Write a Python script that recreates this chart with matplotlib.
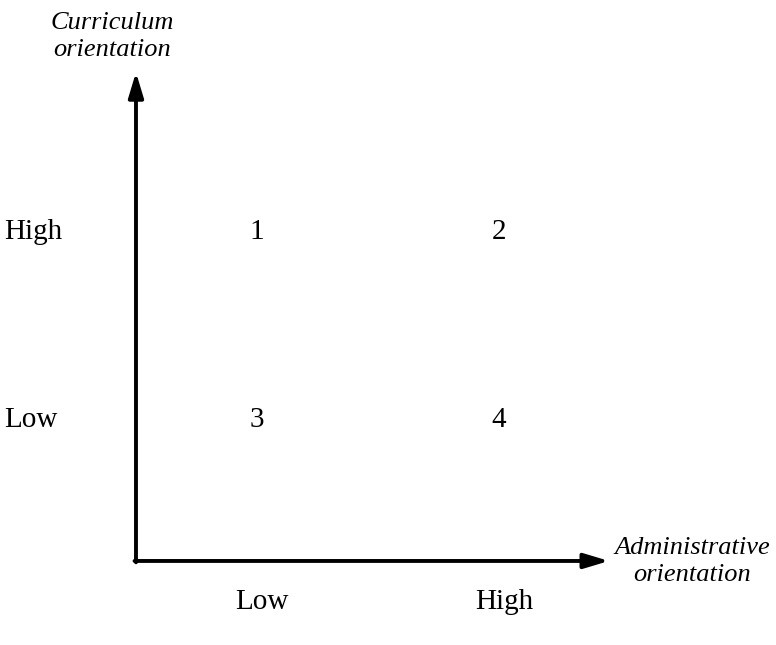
import matplotlib.pyplot as plt

# 2x2 typology: cell numbers by (curriculum, administrative) level
levels = ["Low", "High"]
level_pos = [0.5, 1.5]
cells = [["3", "4"],   # curriculum Low
         ["1", "2"]]   # curriculum High
row_pos = [0.75, 1.75]
x_title = "Administrative\norientation"
y_title = "Curriculum\norientation"

plt.rcParams['font.family'] = ['Liberation Serif', 'DejaVu Serif']

fig = plt.figure(figsize=(7.76, 6.45), dpi=100)
ax = fig.add_axes([0, 0, 1, 1])
ax.set_xlim(-0.562, 2.645)
ax.set_ylim(-0.447, 2.984)
ax.axis("off")

arrow = dict(arrowstyle="-|>,head_length=1.5,head_width=0.45", color="black",
             lw=2.8, shrinkA=0, shrinkB=0)
ax.annotate("", xy=(1.955, 0), xytext=(-0.006, 0), arrowprops=arrow)
ax.annotate("", xy=(0, 2.6), xytext=(0, -0.007), arrowprops=arrow)

fs = 21
for i, row in enumerate(cells):
    ax.text(-0.545, row_pos[i], levels[i], fontsize=fs, ha="left", va="center")
    for j, c in enumerate(row):
        ax.text(level_pos[j], row_pos[i], c, fontsize=fs, ha="center", va="center")

for j, lab in enumerate(levels):
    ax.text(level_pos[j] + 0.02, -0.22, lab, fontsize=fs, ha="center", va="center")

ax.text(2.3, -0.005, x_title, fontsize=19, style="italic", ha="center", va="center",
        linespacing=1.3)
ax.text(-0.1, 2.79, y_title, fontsize=19, style="italic", ha="center", va="center",
        linespacing=1.3)

fig.savefig("out.png", dpi=100)
